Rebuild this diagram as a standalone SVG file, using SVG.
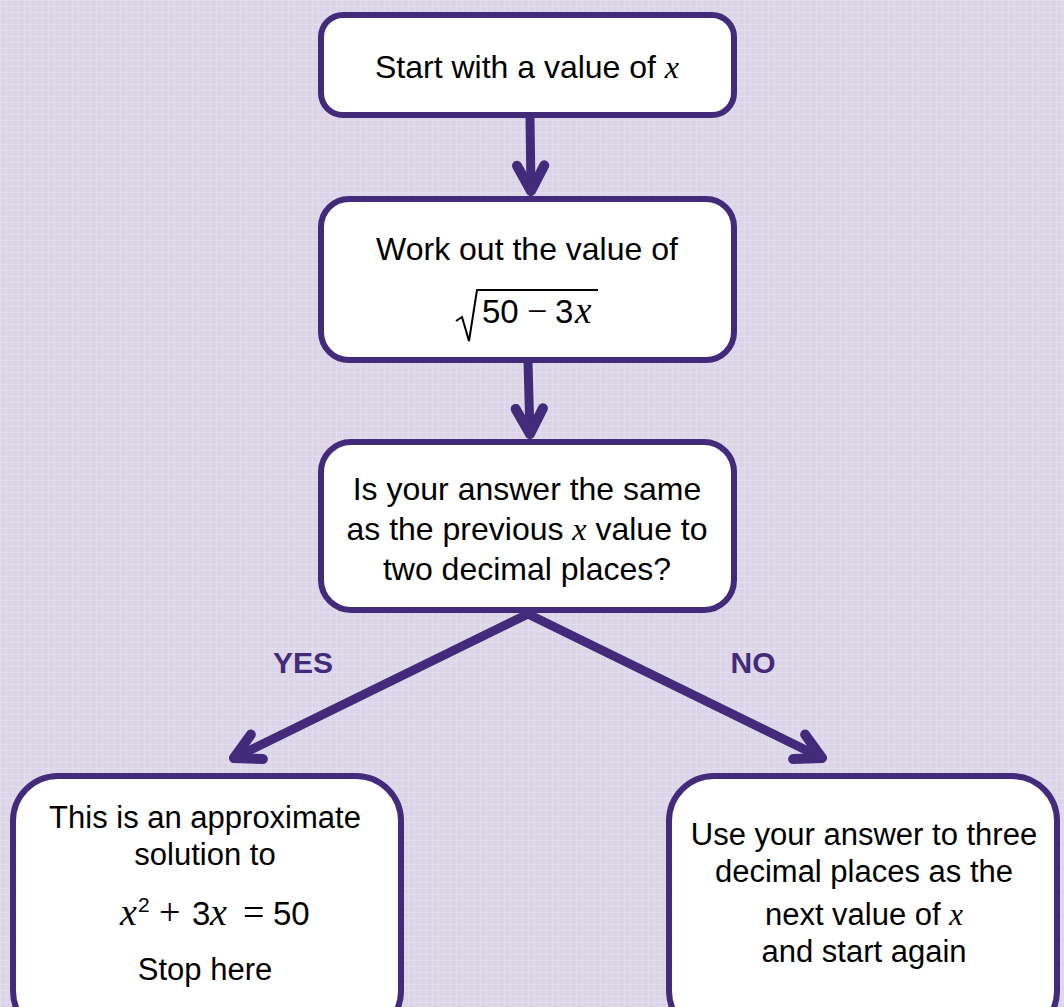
<svg xmlns="http://www.w3.org/2000/svg" width="1064" height="1007" viewBox="0 0 1064 1007">
<style>
.box{fill:#ffffff;stroke:#432A7B;stroke-width:6}
.t{font-family:"Liberation Sans",Arial,sans-serif;font-size:31px;fill:#000;text-anchor:middle}
.big{font-size:32px}
.m{font-family:"Liberation Serif","Times New Roman",serif;font-style:italic}
.op{font-family:"Liberation Serif","Times New Roman",serif;font-size:36px}
.lbl{font-family:"Liberation Sans",Arial,sans-serif;font-size:30px;font-weight:bold;fill:#432A7B;text-anchor:middle}
.conn{stroke:#432A7B;stroke-width:9;fill:none;stroke-linecap:round}
</style>
<defs>
<pattern id="bg" width="6" height="6" patternUnits="userSpaceOnUse">
<rect width="6" height="6" fill="#DCD5E8"/>
<rect x="0" y="0" width="6" height="1" fill="#E3DDEE"/>
<rect x="0" y="0" width="1" height="6" fill="#E3DDEE"/>
</pattern>
<marker id="arr" markerUnits="userSpaceOnUse" orient="auto" refX="0" refY="0" markerWidth="40" markerHeight="40" viewBox="-40 -20 44 40" overflow="visible">
<path d="M -28,-15 L 0,0 L -28,15" fill="none" stroke="#432A7B" stroke-width="11" stroke-linecap="round" stroke-linejoin="round"/>
</marker>
</defs>
<rect width="1064" height="1007" fill="url(#bg)"/>

<g id="connectors">
<path class="conn" d="M530,117 L531,191" marker-end="url(#arr)"/>
<path class="conn" d="M528,362 L530,434" marker-end="url(#arr)"/>
<path class="conn" d="M528,614 L234,758" marker-end="url(#arr)"/>
<path class="conn" d="M528,614 L822,758" marker-end="url(#arr)"/>
<text class="lbl" x="303" y="673">YES</text>
<text class="lbl" x="753" y="673">NO</text>
</g>

<g id="start">
<rect class="box" x="321" y="15" width="413" height="100" rx="22"/>
<text class="t big" x="527" y="78">Start with a value of <tspan class="m">x</tspan></text>
</g>

<g id="work">
<rect class="box" x="321" y="199" width="413" height="161" rx="28"/>
<text class="t big" x="527" y="260">Work out the value of</text>
<path d="M456,321 L462,317 L469,341 L477,290 L598,290" fill="none" stroke="#000" stroke-width="2"/>
<text class="t" style="text-anchor:start;font-size:33px" y="323"><tspan x="482">50</tspan><tspan x="527" class="op">−</tspan><tspan x="555">3</tspan><tspan x="575" class="m" style="font-size:37px">x</tspan></text>
</g>

<g id="check">
<rect class="box" x="321" y="442" width="413" height="168" rx="30"/>
<text class="t big" x="527" y="500">Is your answer the same</text>
<text class="t big" x="527" y="540">as the previous <tspan class="m">x</tspan> value to</text>
<text class="t big" x="527" y="580">two decimal places?</text>
</g>

<g id="yes">
<rect class="box" x="13" y="776" width="388" height="260" rx="45"/>
<text class="t" x="205" y="828">This is an approximate</text>
<text class="t" x="205" y="865">solution to</text>
<text class="t" style="text-anchor:start;font-size:33px" y="925"><tspan x="120" class="m" style="font-size:38px">x</tspan><tspan x="138" dy="-13" style="font-size:21px">2</tspan><tspan x="159" dy="13" class="op" style="font-size:38px">+</tspan><tspan x="192">3</tspan><tspan x="210" class="m" style="font-size:38px">x</tspan><tspan x="243" class="op" style="font-size:38px">=</tspan><tspan x="273">50</tspan></text>
<text class="t" x="205" y="980">Stop here</text>
</g>

<g id="no">
<rect class="box" x="669" y="776" width="388" height="260" rx="45"/>
<text class="t" x="864" y="845">Use your answer to three</text>
<text class="t" x="864" y="882">decimal places as the</text>
<text class="t" x="864" y="925">next value of <tspan class="m">x</tspan></text>
<text class="t" x="864" y="962">and start again</text>
</g>
</svg>
